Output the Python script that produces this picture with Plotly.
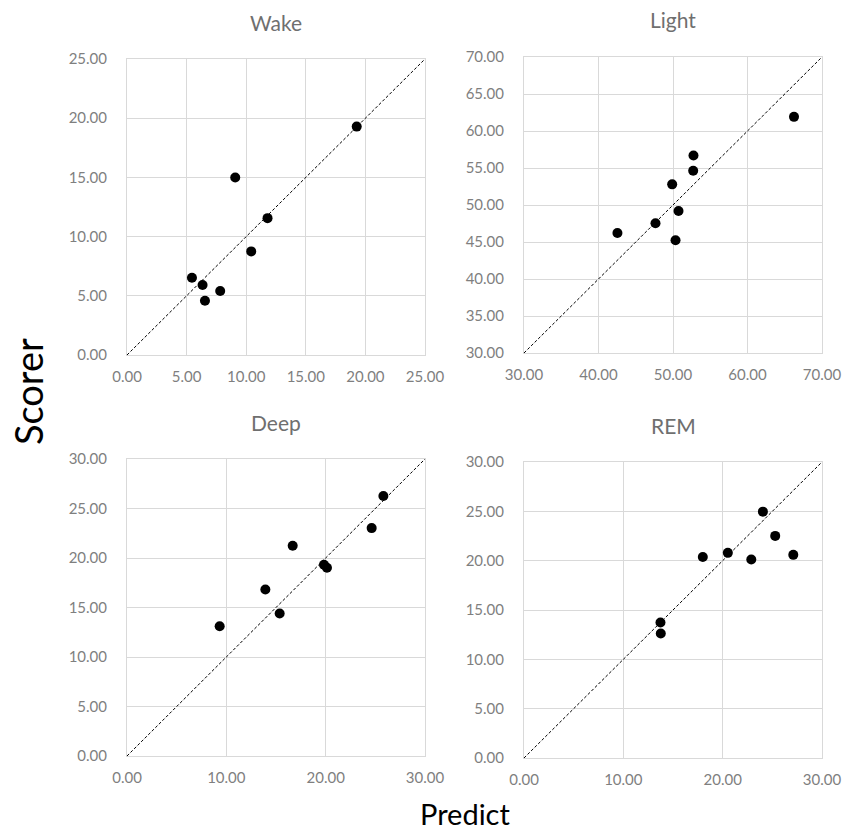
import plotly.graph_objects as go

W, H = 853, 830

titles = ["Wake", "Light", "Deep", "REM"]

wake_pred = [19.27, 9.08, 11.79, 10.42, 5.45, 6.34, 7.82, 6.54]
wake_scorer = [19.29, 14.99, 11.56, 8.75, 6.52, 5.91, 5.40, 4.58]

light_pred = [66.24, 52.75, 52.71, 49.89, 50.74, 47.65, 42.54, 50.34]
light_scorer = [61.91, 56.70, 54.63, 52.79, 49.19, 47.53, 46.22, 45.24]

deep_pred = [25.81, 24.63, 16.68, 19.83, 20.13, 13.93, 15.37, 9.33]
deep_scorer = [26.26, 23.02, 21.23, 19.31, 19.01, 16.82, 14.39, 13.11]

rem_pred = [24.05, 25.29, 20.52, 27.11, 18.00, 22.88, 13.74, 13.77]
rem_scorer = [24.97, 22.51, 20.79, 20.59, 20.38, 20.11, 13.74, 12.62]

ranges = [[0, 25], [30, 70], [0, 30], [0, 30]]
x_dticks = [5, 10, 10, 10]
y_dticks = [5, 5, 5, 5]

preds = [wake_pred, light_pred, deep_pred, rem_pred]
scorers = [wake_scorer, light_scorer, deep_scorer, rem_scorer]

# pixel boxes (left, right, top, bottom)
boxes = [(127, 425, 59, 355), (524, 822, 57, 353),
         (127, 425, 459, 756), (524, 822, 462, 758)]

FONT = "Lato"
TICK_COL = "#7f7f7f"
GRID_COL = "#d9d9d9"

fig = go.Figure()
layout = dict(
    width=W, height=H, margin=dict(l=0, r=0, t=0, b=0),
    paper_bgcolor="white", plot_bgcolor="white", showlegend=False,
    font=dict(family=FONT, color=TICK_COL, size=15),
)
annotations = []
for i in range(4):
    n = "" if i == 0 else str(i + 1)
    xa, ya = "x" + n, "y" + n
    l, r, t, b = boxes[i]
    lo, hi = ranges[i]
    fig.add_trace(go.Scatter(x=[lo, hi], y=[lo, hi], mode="lines",
                             line=dict(color="black", width=1, dash="3px,2px"),
                             xaxis=xa, yaxis=ya, hoverinfo="skip"))
    fig.add_trace(go.Scatter(x=preds[i], y=scorers[i], mode="markers",
                             marker=dict(color="black", size=10),
                             xaxis=xa, yaxis=ya))
    common = dict(showgrid=True, gridcolor=GRID_COL, gridwidth=1,
                  showline=True, linecolor=GRID_COL, linewidth=1, mirror=True,
                  zeroline=False, tickformat=".2f", automargin=False,
                  tickfont=dict(family=FONT, color=TICK_COL, size=15),
                  ticks="", tick0=lo)
    layout["xaxis" + n] = dict(common, domain=[l / W, r / W], range=[lo, hi],
                               dtick=x_dticks[i], anchor=ya,
                               ticklabelstandoff=8)
    layout["yaxis" + n] = dict(common, domain=[1 - b / H, 1 - t / H], range=[lo, hi],
                               dtick=y_dticks[i], anchor=xa,
                               ticklabelstandoff=16)
    annotations.append(dict(text=titles[i], x=(l + r) / 2 / W, y=1 - (t - 37) / H,
                            xref="paper", yref="paper", showarrow=False,
                            xanchor="center", yanchor="middle",
                            font=dict(family=FONT, size=21, color="#6f6f6f")))

annotations.append(dict(text="Scorer", x=28 / W, y=1 - 392 / H, xref="paper", yref="paper",
                        showarrow=False, textangle=-90, xanchor="center", yanchor="middle",
                        font=dict(family=FONT, size=38, color="black")))
annotations.append(dict(text="Predict", x=465 / W, y=1 - 813 / H, xref="paper", yref="paper",
                        showarrow=False, xanchor="center", yanchor="middle",
                        font=dict(family=FONT, size=29, color="black")))
layout["annotations"] = annotations
fig.update_layout(**layout)
fig.write_html("out.html", config={"displayModeBar": False},
               post_script="document.body.style.margin='0';document.body.style.padding='0';")
